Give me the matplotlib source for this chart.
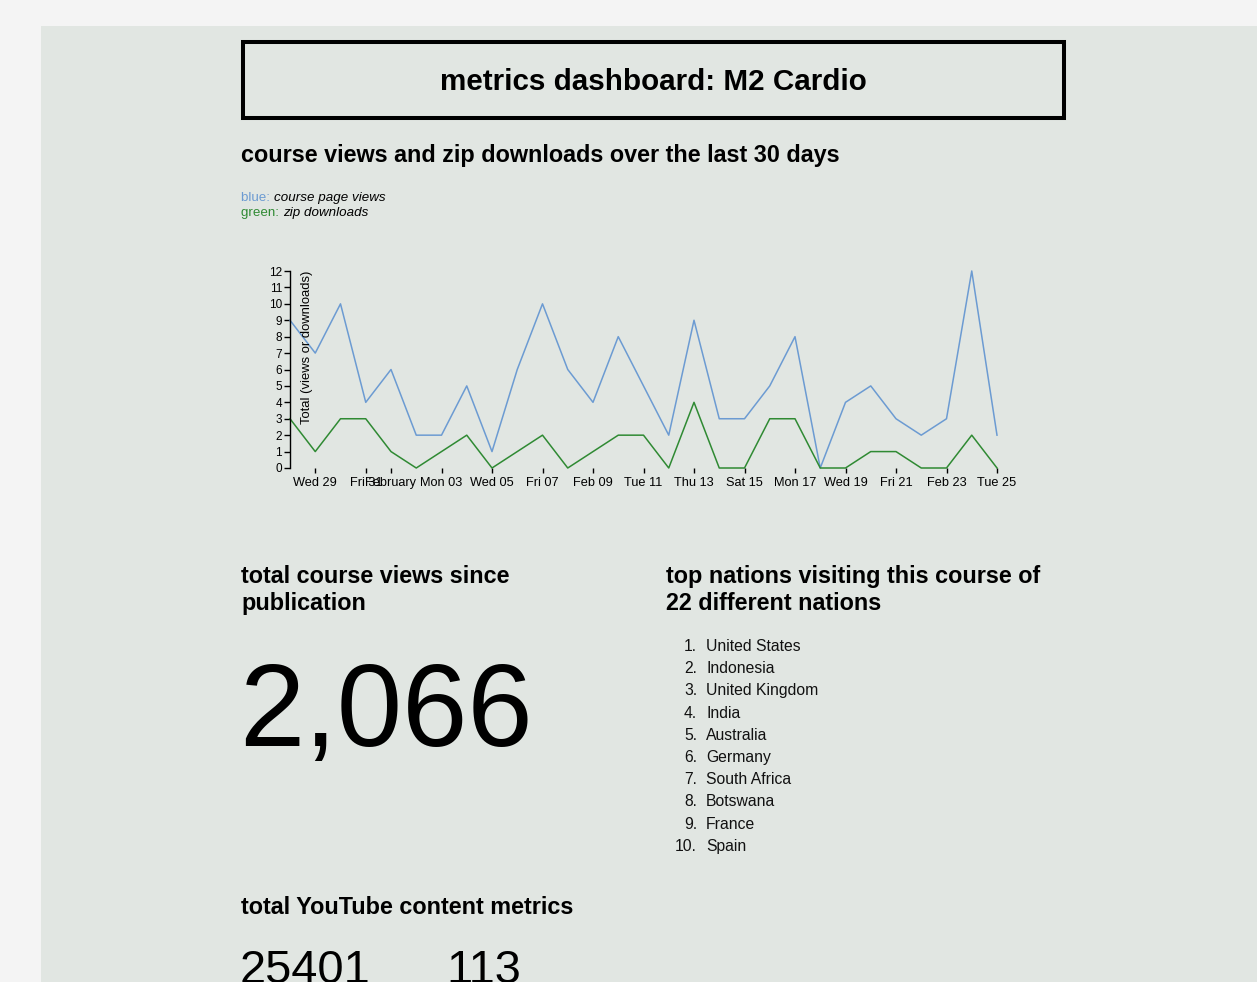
import matplotlib
matplotlib.use("Agg")
import matplotlib.pyplot as plt
import matplotlib.dates as mdates
from matplotlib.patches import Rectangle
import numpy as np
import pandas as pd

plt.rcParams['font.family'] = ['Liberation Sans', 'DejaVu Sans']

# ---------------- data ----------------
dates = pd.date_range('2014-01-28', '2014-02-25', freq='D')
views = [9, 7, 10, 4, 6, 2, 2, 5, 1, 6, 10, 6, 4, 8, 5, 2, 9, 3, 3, 5, 8, 0, 4, 5, 3, 2, 3, 12, 2]
downloads = [3, 1, 3, 3, 1, 0, 1, 2, 0, 1, 2, 0, 1, 2, 2, 0, 4, 0, 0, 3, 3, 0, 0, 1, 1, 0, 0, 2, 0]
tick_dates = pd.to_datetime(['2014-01-29', '2014-01-31', '2014-02-01', '2014-02-03', '2014-02-05',
                             '2014-02-07', '2014-02-09', '2014-02-11', '2014-02-13', '2014-02-15',
                             '2014-02-17', '2014-02-19', '2014-02-21', '2014-02-23', '2014-02-25'])
tick_labels = ['Wed 29', 'Fri 31', 'February', 'Mon 03', 'Wed 05', 'Fri 07', 'Feb 09', 'Tue 11',
               'Thu 13', 'Sat 15', 'Mon 17', 'Wed 19', 'Fri 21', 'Feb 23', 'Tue 25']
y_ticks = list(range(0, 13))

title = 'metrics dashboard: M2 Cardio'
chart_heading = 'course views and zip downloads over the last 30 days'
total_views = 2066
nations_count = 22
nations = ['United States', 'Indonesia', 'United Kingdom', 'India', 'Australia',
           'Germany', 'South Africa', 'Botswana', 'France', 'Spain']
yt_metrics = [25401, 113]

# ---------------- figure ----------------
W, H = 1257, 982
fig = plt.figure(figsize=(W / 100, H / 100), dpi=100)
fig.patch.set_facecolor('#f4f4f4')

bg = fig.add_axes([0, 0, 1, 1])
bg.set_xlim(0, W)
bg.set_ylim(H, 0)
bg.axis('off')
bg.set_zorder(0)

PANEL = '#e1e6e2'
bg.add_patch(Rectangle((41, 26), W - 41, H - 26, facecolor=PANEL, edgecolor='none'))
bg.add_patch(Rectangle((243, 42), 821, 76, facecolor='none', edgecolor='#000000', linewidth=2.9))

bg.text(653, 90, title, fontsize=21.3, fontweight='bold', ha='center', va='baseline', color='#000000')
bg.text(241, 162, chart_heading, fontsize=16.8, fontweight='bold', ha='left', va='baseline')

# legend text
BLUE = '#6c9bd2'
GREEN = '#2f8a33'
t1 = bg.text(241, 201, 'blue: ', fontsize=9.6, color=BLUE, ha='left', va='baseline')
bg.annotate('course page views', xycoords=t1, xy=(1, 0), va='bottom', ha='left',
            fontsize=9.6, style='italic', color='#000000')
t2 = bg.text(241, 216, 'green: ', fontsize=9.6, color=GREEN, ha='left', va='baseline')
bg.annotate('zip downloads', xycoords=t2, xy=(1, 0), va='bottom', ha='left',
            fontsize=9.6, style='italic', color='#000000')

# lower sections
HS = 16.8
bg.text(241, 583, 'total course views since', fontsize=HS, fontweight='bold', ha='left', va='baseline')
bg.text(241, 610, 'publication', fontsize=HS, fontweight='bold', ha='left', va='baseline')
bg.text(239, 746, f'{total_views:,}', fontsize=84.5, ha='left', va='baseline', color='#000000')

bg.text(666, 583, 'top nations visiting this course of', fontsize=HS, fontweight='bold',
        ha='left', va='baseline')
bg.text(666, 610, f'{nations_count} different nations', fontsize=HS, fontweight='bold',
        ha='left', va='baseline')
for i, n in enumerate(nations):
    yb = 651 + i * 22.2
    bg.text(697, yb, f'{i + 1}.', fontsize=11.3, ha='right', va='baseline', color='#111111')
    bg.text(706, yb, n, fontsize=11.3, ha='left', va='baseline', color='#111111')

bg.text(241, 914, 'total YouTube content metrics', fontsize=HS, fontweight='bold', ha='left', va='baseline')
bg.text(240, 983, str(yt_metrics[0]), fontsize=33.8, ha='left', va='baseline')
bg.text(446, 983, str(yt_metrics[1]), fontsize=33.8, ha='left', va='baseline')

# ---------------- chart ----------------
x0, x1 = 290, 997
y0, y1 = 468, 271
ax = fig.add_axes([x0 / W, (H - y0) / H, (x1 - x0) / W, (y0 - y1) / H])
ax.set_zorder(2)
ax.patch.set_alpha(0)
ax.plot(dates, views, color=BLUE, linewidth=1.1, clip_on=False)
ax.plot(dates, downloads, color=GREEN, linewidth=1.1, clip_on=False)
ax.set_xlim(dates[0], dates[-1])
ax.set_ylim(0, 12)
ax.set_yticks(y_ticks)
ax.set_yticklabels([str(v) for v in y_ticks])
ax.set_xticks(tick_dates)
ax.set_xticklabels(tick_labels)
for s in ['top', 'right', 'bottom']:
    ax.spines[s].set_visible(False)
ax.spines['left'].set_color('#000000')
ax.spines['left'].set_linewidth(1.0)
ax.tick_params(axis='y', direction='out', length=4.3, width=1, pad=1.5, labelsize=8.5, colors='#000000')
ax.tick_params(axis='x', direction='out', length=3.8, width=1, pad=3, labelsize=9.2, colors='#000000')
ax.text((307 - x0) / (x1 - x0), 1.0, 'Total (views or downloads)', transform=ax.transAxes,
        rotation=90, ha='center', va='top', fontsize=9.4, color='#000000')

fig.savefig('out.png', dpi=100, facecolor=fig.get_facecolor())
